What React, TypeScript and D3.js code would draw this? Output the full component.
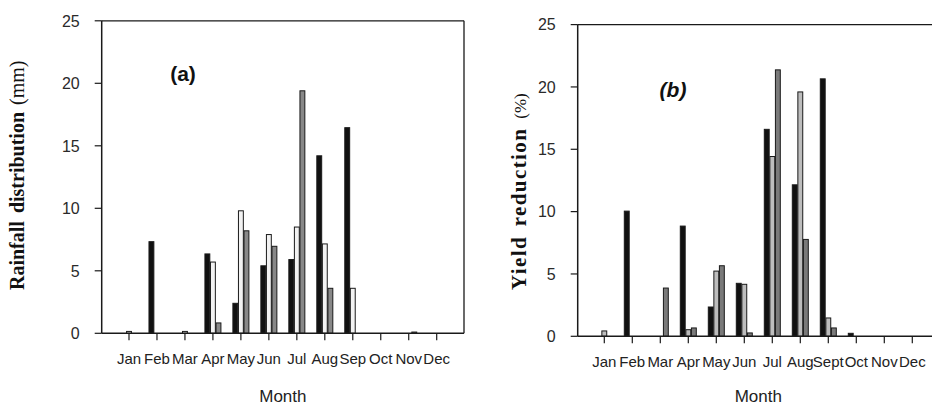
import React from "react";
import * as d3 from "d3";

const months = ["Jan", "Feb", "Mar", "Apr", "May", "Jun", "Jul", "Aug", "Sep", "Oct", "Nov", "Dec"];
const monthLabelsA = ["Jan", "Feb", "Mar", "Apr", "May", "Jun", "Jul", "Aug", "Sep", "Oct", "Nov", "Dec"];
const monthLabelsB = ["Jan", "Feb", "Mar", "Apr", "May", "Jun", "Jul", "Aug", "Sept", "Oct", "Nov", "Dec"];
const series = ["s1", "s2", "s3"];
const yTicks = [0, 5, 10, 15, 20, 25];

// Panel (a) Rainfall distribution (mm)
const rainS1 = [0, 7.33, 0, 6.35, 2.4, 5.4, 5.9, 14.2, 16.45, 0, 0, 0];
const rainS2 = [0.15, 0, 0.15, 5.7, 9.8, 7.9, 8.5, 7.15, 3.6, 0, 0, 0];
const rainS3 = [0, 0, 0, 0.83, 8.2, 6.96, 19.4, 3.6, 0, 0, 0.1, 0];

// Panel (b) Yield reduction (%)
const yieldS1 = [0, 10.04, 0, 8.84, 2.35, 4.25, 16.6, 12.15, 20.65, 0.24, 0, 0];
const yieldS2 = [0.43, 0, 0, 0.53, 5.23, 4.17, 14.42, 19.6, 1.47, 0, 0, 0];
const yieldS3 = [0, 0, 3.87, 0.67, 5.66, 0.27, 21.37, 7.77, 0.67, 0, 0, 0];

const FONT = "'Liberation Sans', Arial, sans-serif";
const SERIF = "'Liberation Serif', 'Times New Roman', serif";

type PanelProps = {
  left: number;
  top: number;
  bottom: number;
  right: number;
  firstTick: number;
  lastTick: number;
  showRight: boolean;
  labels: string[];
  data: number[][];
  fills: string[];
};

function Panel(p: PanelProps) {
  const y = d3.scaleLinear().domain([0, 25]).range([p.bottom, p.top]);
  const x = d3.scalePoint<string>().domain(months).range([p.firstTick, p.lastTick]);
  const inner = d3.scaleBand<string>().domain(series).range([-8, 8]).paddingInner(0.12);
  const axisColor = "#1a1a1a";
  const cx = (p.firstTick + p.lastTick) / 2;
  return (
    <g>
      {p.data.map((vals, si) =>
        vals.map((v, mi) => {
          if (v <= 0) return null;
          const x0 = (x(months[mi]) as number) + (inner(series[si]) as number);
          const yTop = y(v);
          return (
            <rect
              key={`${si}-${mi}`}
              x={x0}
              y={yTop}
              width={inner.bandwidth()}
              height={y(0) - yTop}
              fill={p.fills[si]}
              stroke="#1a1a1a"
              strokeWidth={1}
            />
          );
        })
      )}
      <line x1={p.left} x2={p.right} y1={p.top} y2={p.top} stroke={axisColor} strokeWidth={1.3} />
      <line x1={p.left} x2={p.right} y1={p.bottom} y2={p.bottom} stroke={axisColor} strokeWidth={1.5} />
      <line x1={p.left} x2={p.left} y1={p.top} y2={p.bottom} stroke={axisColor} strokeWidth={1.5} />
      {p.showRight && (
        <line x1={p.right} x2={p.right} y1={p.top} y2={p.bottom} stroke={axisColor} strokeWidth={1.3} />
      )}
      {yTicks.map((t) => (
        <g key={t}>
          <line x1={p.left - 7} x2={p.left} y1={y(t)} y2={y(t)} stroke={axisColor} strokeWidth={1.2} />
          <text
            x={p.left - 22}
            y={y(t)}
            dy="0.36em"
            textAnchor="end"
            fontFamily={FONT}
            fontSize={16}
            fill="#2a2a2a"
          >
            {t}
          </text>
        </g>
      ))}
      {months.map((m, i) => (
        <g key={m}>
          <line
            x1={x(m) as number}
            x2={x(m) as number}
            y1={p.bottom}
            y2={p.bottom + 7}
            stroke={axisColor}
            strokeWidth={1.2}
          />
          <text
            x={x(m) as number}
            y={p.bottom + 31}
            textAnchor="middle"
            fontFamily={FONT}
            fontSize={15}
            fill="#222"
          >
            {p.labels[i]}
          </text>
        </g>
      ))}
      <text x={cx} y={402} textAnchor="middle" fontFamily={FONT} fontSize={17} fill="#222">
        Month
      </text>
    </g>
  );
}

export default function App() {
  return (
    <svg
      width={932}
      height={407}
      style={{ position: "absolute", left: 0, top: 0, background: "#fff" }}
    >
      <rect width={932} height={407} fill="#fff" />
      <Panel
        left={101.7}
        top={20.8}
        bottom={333.3}
        right={464}
        firstTick={129}
        lastTick={436.7}
        showRight={true}
        labels={monthLabelsA}
        data={[rainS1, rainS2, rainS3]}
        fills={["#111", "#f2f2f2", "#888"]}
      />
      <Panel
        left={577.7}
        top={24.6}
        bottom={336.3}
        right={940}
        firstTick={604.3}
        lastTick={912.3}
        showRight={false}
        labels={monthLabelsB}
        data={[yieldS1, yieldS2, yieldS3]}
        fills={["#111", "#bdbdbd", "#7a7a7a"]}
      />
      <text x={183} y={81} textAnchor="middle" fontFamily={FONT} fontWeight="bold" fontSize={21} fill="#111">
        (a)
      </text>
      <text
        x={673}
        y={97}
        textAnchor="middle"
        fontFamily={FONT}
        fontWeight="bold"
        fontStyle="italic"
        fontSize={21}
        fill="#111"
      >
        (b)
      </text>
      <text
        transform="translate(24,290) rotate(-90)"
        fontFamily={SERIF}
        fontSize={20}
        fill="#111"
      >
        <tspan fontWeight="bold" wordSpacing={3}>Rainfall distribution</tspan>
        <tspan fontWeight="normal" dx={7}>(mm)</tspan>
      </text>
      <text
        transform="translate(526,290) rotate(-90)"
        fontFamily={SERIF}
        fontSize={21}
        fill="#111"
      >
        <tspan fontWeight="bold" letterSpacing={1.4} wordSpacing={3}>Yield reduction</tspan>
        <tspan fontWeight="normal" fontSize={17} dx={9}>(%)</tspan>
      </text>
    </svg>
  );
}
